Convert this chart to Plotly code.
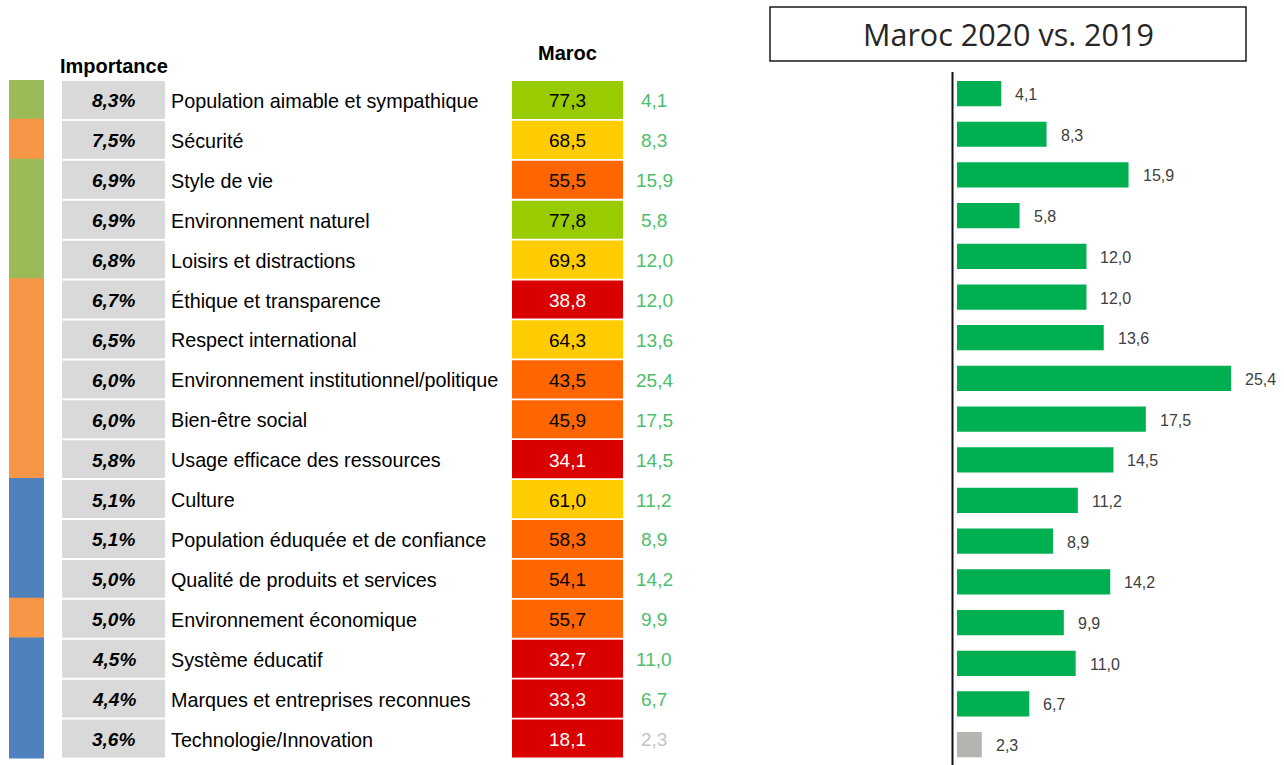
import plotly.graph_objects as go

# Attributs de réputation, du plus au moins important
attributs = [
    "Population aimable et sympathique",
    "Sécurité",
    "Style de vie",
    "Environnement naturel",
    "Loisirs et distractions",
    "Éthique et transparence",
    "Respect international",
    "Environnement institutionnel/politique",
    "Bien-être social",
    "Usage efficace des ressources",
    "Culture",
    "Population éduquée et de confiance",
    "Qualité de produits et services",
    "Environnement économique",
    "Système éducatif",
    "Marques et entreprises reconnues",
    "Technologie/Innovation",
]
importance = [8.3, 7.5, 6.9, 6.9, 6.8, 6.7, 6.5, 6.0, 6.0, 5.8, 5.1, 5.1, 5.0, 5.0, 4.5, 4.4, 3.6]
dimension = [
    "Environnement", "Gouvernance", "Environnement", "Environnement", "Environnement",
    "Gouvernance", "Gouvernance", "Gouvernance", "Gouvernance", "Gouvernance",
    "Économie", "Économie", "Économie", "Gouvernance", "Économie", "Économie", "Économie",
]
score_2020 = [77.3, 68.5, 55.5, 77.8, 69.3, 38.8, 64.3, 43.5, 45.9, 34.1, 61.0, 58.3, 54.1, 55.7, 32.7, 33.3, 18.1]
evolution = [4.1, 8.3, 15.9, 5.8, 12.0, 12.0, 13.6, 25.4, 17.5, 14.5, 11.2, 8.9, 14.2, 9.9, 11.0, 6.7, 2.3]
significatif = [True] * 16 + [False]

# Styles
W, H = 1284, 765
FONT = "Liberation Sans, Arial, sans-serif"
DIM_COLORS = {"Environnement": "#9BBB59", "Gouvernance": "#F79646", "Économie": "#4F81BD"}
GREY_CELL = "#D9D9D9"
TXT_GREEN = "#4DBE6E"
TXT_GREY = "#C4C4C4"
BAR_GREEN = "#00B050"
BAR_GREY = "#B2B5B0"


def couleur_score(v):
    if v >= 70:
        return "#99CC00"
    if v >= 60:
        return "#FFCC00"
    if v >= 40:
        return "#FF6600"
    return "#DA0000"


def px_x(p):
    return p / W


def px_y(p):
    return 1 - p / H


def fr(v, d=1):
    return f"{v:.{d}f}".replace(".", ",")


rows = list(range(len(attributs)))
fig = go.Figure()

# --- Tableau de gauche (axe x exprimé en pixels horizontaux) ---
fig.add_trace(go.Bar(
    orientation="h", y=rows, x=[35] * len(rows), base=9, width=1.06,
    marker=dict(color=[DIM_COLORS[d] for d in dimension], line=dict(width=0)),
    xaxis="x", yaxis="y", hoverinfo="skip", showlegend=False,
))
fig.add_trace(go.Bar(
    orientation="h", y=rows, x=[103] * len(rows), base=62, width=0.95,
    marker=dict(color=GREY_CELL, line=dict(width=0)),
    xaxis="x", yaxis="y", hoverinfo="skip", showlegend=False,
))
fig.add_trace(go.Bar(
    orientation="h", y=rows, x=[111] * len(rows), base=512, width=0.955,
    marker=dict(color=[couleur_score(v) for v in score_2020], line=dict(width=0)),
    xaxis="x", yaxis="y", hoverinfo="skip", showlegend=False,
))

annotations = []
for i in rows:
    annotations.append(dict(
        x=113.5, y=i, xref="x", yref="y", text=f"<b><i>{fr(importance[i])}%</i></b>",
        showarrow=False, xanchor="center", yanchor="middle", yshift=-1,
        font=dict(family=FONT, size=19, color="#000000"),
    ))
    annotations.append(dict(
        x=168.5, y=i, xref="x", yref="y", text=attributs[i],
        showarrow=False, xanchor="left", yanchor="middle", yshift=-1,
        font=dict(family=FONT, size=19.75, color="#000000"),
    ))
    annotations.append(dict(
        x=567.5, y=i, xref="x", yref="y", text=fr(score_2020[i]),
        showarrow=False, xanchor="center", yanchor="middle", yshift=-1,
        font=dict(family=FONT, size=19,
                  color="#FFFFFF" if score_2020[i] < 40 else "#000000"),
    ))
    annotations.append(dict(
        x=654, y=i, xref="x", yref="y", text=fr(evolution[i]),
        showarrow=False, xanchor="center", yanchor="middle", yshift=-1,
        font=dict(family=FONT, size=19, color=TXT_GREEN if significatif[i] else TXT_GREY),
    ))

# En-têtes
annotations.append(dict(
    x=px_x(114), y=px_y(66), xref="paper", yref="paper", text="<b>Importance</b>",
    showarrow=False, xanchor="center", yanchor="middle",
    font=dict(family=FONT, size=20, color="#000000"),
))
annotations.append(dict(
    x=px_x(567.5), y=px_y(53), xref="paper", yref="paper", text="<b>Maroc</b>",
    showarrow=False, xanchor="center", yanchor="middle",
    font=dict(family=FONT, size=20, color="#000000"),
))

# --- Graphique de droite : évolution 2020 vs 2019 ---
fig.add_trace(go.Bar(
    orientation="h", y=rows, x=evolution, width=0.62,
    marker=dict(color=[BAR_GREEN if s else BAR_GREY for s in significatif], line=dict(width=0)),
    xaxis="x2", yaxis="y2", hoverinfo="skip", showlegend=False,
))
for i in rows:
    annotations.append(dict(
        x=evolution[i], y=i, xref="x2", yref="y2", text=fr(evolution[i]),
        showarrow=False, xanchor="left", yanchor="middle", xshift=12, yshift=-1,
        font=dict(family=FONT, size=16, color="#404040"),
    ))

# Titre encadré
annotations.append(dict(
    x=px_x(1008), y=px_y(34), xref="paper", yref="paper", text="Maroc 2020 vs. 2019",
    showarrow=False, xanchor="center", yanchor="middle",
    font=dict(family="Open Sans, sans-serif", size=30.5, color="#262626"),
))

shapes = [
    dict(type="rect", xref="paper", yref="paper",
         x0=px_x(770), x1=px_x(1246), y0=px_y(61), y1=px_y(7),
         line=dict(color="#1A1A1A", width=1.5), fillcolor="rgba(0,0,0,0)"),
    dict(type="line", xref="paper", yref="paper",
         x0=px_x(952.5), x1=px_x(952.5), y0=px_y(765), y1=px_y(72),
         line=dict(color="#111111", width=2)),
]

n = len(rows)
fig.update_layout(
    width=W, height=H,
    margin=dict(l=0, r=0, t=0, b=0),
    paper_bgcolor="white", plot_bgcolor="rgba(0,0,0,0)",
    barmode="overlay",
    xaxis=dict(domain=[0, px_x(760)], range=[0, 760], visible=False, fixedrange=True),
    yaxis=dict(domain=[px_y(758.5), px_y(80)], range=[n - 0.5, -0.5], visible=False, fixedrange=True),
    xaxis2=dict(domain=[px_x(957), 1], range=[0, (W - 957) / 10.79], visible=False,
                anchor="y2", fixedrange=True),
    yaxis2=dict(domain=[px_y(765), px_y(73.2)], range=[n - 0.5, -0.5], visible=False,
                anchor="x2", fixedrange=True),
    annotations=annotations,
    shapes=shapes,
)

fig.write_html("out.html")
